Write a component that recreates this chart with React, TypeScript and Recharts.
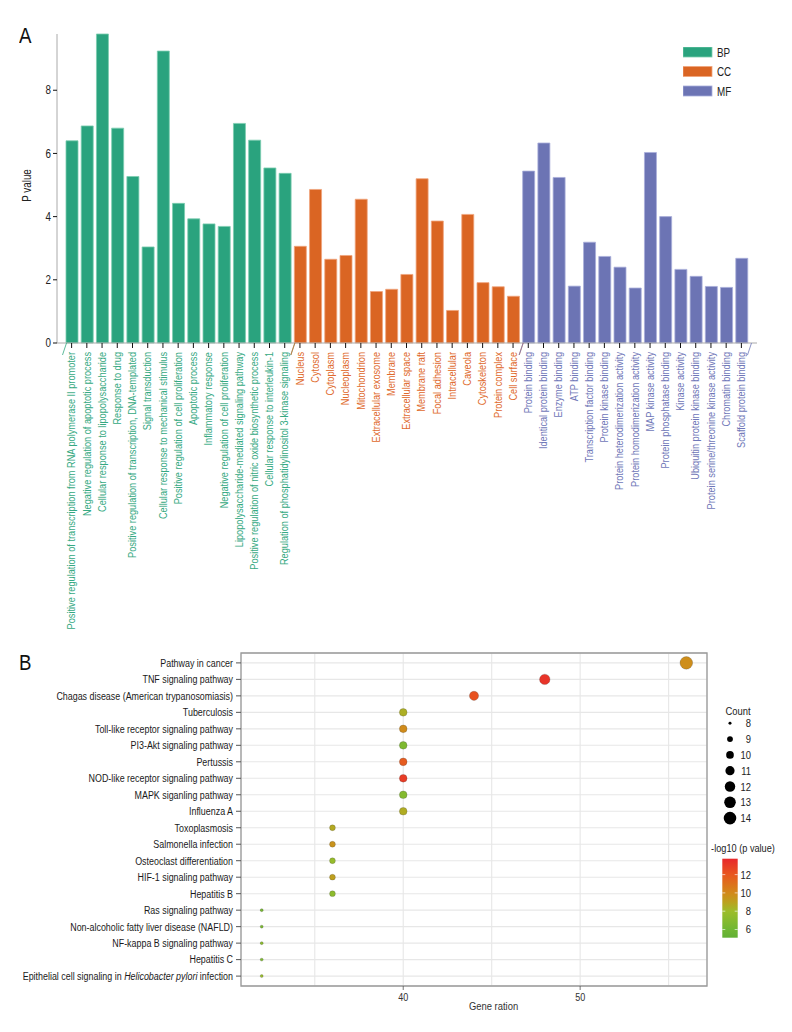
import React from "react";
import {
  BarChart,
  Bar,
  XAxis,
  YAxis,
  Cell,
  Legend,
  ScatterChart,
  Scatter,
  ZAxis,
  CartesianGrid,
  ReferenceArea,
} from "recharts";

const FONT = '"Liberation Sans", Arial, sans-serif';
// the original uses a condensed face; squeeze Liberation Sans horizontally
const SQUEEZE = 0.82;

// ---- Panel A: GO enrichment ----
const bpTerms = [
  "Positive regulation of transcription from RNA polymerase II promoter",
  "Negative regulation of apoptotic process",
  "Cellular response to lipopolysaccharide",
  "Response to drug",
  "Positive regulation of transcription, DNA-templated",
  "Signal transduction",
  "Cellular response to mechanical stimulus",
  "Positive regulation of cell proliferation",
  "Apoptotic process",
  "Inflammatory response",
  "Negative regulation of cell proliferation",
  "Lipopolysaccharide-mediated signaling pathway",
  "Positive regulation of nitric oxide biosynthetic process",
  "Cellular response to interleukin-1",
  "Regulation of phosphatidylinositol 3-kinase signaling",
];
const bpValues = [6.4, 6.87, 9.78, 6.8, 5.27, 3.04, 9.24, 4.42, 3.93, 3.77, 3.69, 6.95, 6.42, 5.54, 5.37];

const ccTerms = [
  "Nucleus",
  "Cytosol",
  "Cytoplasm",
  "Nucleoplasm",
  "Mitochondrion",
  "Extracellular exosome",
  "Membrane",
  "Extracellular space",
  "Membrane raft",
  "Focal adhesion",
  "Intracellular",
  "Caveola",
  "Cytoskeleton",
  "Protein complex",
  "Cell surface",
];
const ccValues = [3.06, 4.86, 2.65, 2.77, 4.55, 1.63, 1.7, 2.17, 5.2, 3.86, 1.03, 4.07, 1.91, 1.78, 1.48];

const mfTerms = [
  "Protein binding",
  "Identical protein binding",
  "Enzyme binding",
  "ATP binding",
  "Transcription factor binding",
  "Protein kinase binding",
  "Protein heterodimerization activity",
  "Protein homodimerization activity",
  "MAP kinase activity",
  "Protein phosphatase binding",
  "Kinase activity",
  "Ubiquitin protein kinase binding",
  "Protein serine/threonine kinase activity",
  "Chromatin binding",
  "Scaffold protein binding",
];
const mfValues = [5.44, 6.33, 5.24, 1.8, 3.19, 2.74, 2.4, 1.74, 6.03, 4.0, 2.33, 2.11, 1.79, 1.76, 2.68];

const pTicks = [0, 2, 4, 6, 8];
const groups = ["BP", "CC", "MF"];

const BAR_FILL: Record<string, string> = { BP: "#2aa37e", CC: "#da6523", MF: "#6c74b4" };
const BAR_EDGE: Record<string, string> = { BP: "#7ccdb0", CC: "#f0a57c", MF: "#a9aedb" };
const TEXT_FILL: Record<string, string> = { BP: "#35a982", CC: "#e06a2c", MF: "#6f77b8" };

const goData = [
  ...bpTerms.map((term, i) => ({ term, value: bpValues[i], group: "BP", first: i === 0, last: i === bpTerms.length - 1 })),
  ...ccTerms.map((term, i) => ({ term, value: ccValues[i], group: "CC", first: i === 0, last: i === ccTerms.length - 1 })),
  ...mfTerms.map((term, i) => ({ term, value: mfValues[i], group: "MF", first: i === 0, last: i === mfTerms.length - 1 })),
];

// ---- Panel B: KEGG pathways ----
const pathways = [
  "Pathway in cancer",
  "TNF signaling pathway",
  "Chagas disease (American trypanosomiasis)",
  "Tuberculosis",
  "Toll-like receptor signaling pathway",
  "PI3-Akt signaling pathway",
  "Pertussis",
  "NOD-like receptor signaling pathway",
  "MAPK siganling pathway",
  "Influenza A",
  "Toxoplasmosis",
  "Salmonella infection",
  "Osteoclast differentiation",
  "HIF-1 signaling pathway",
  "Hepatitis B",
  "Ras signaling pathway",
  "Non-alcoholic fatty liver disease (NAFLD)",
  "NF-kappa B signaling pathway",
  "Hepatitis C",
  "Epithelial cell signaling in Helicobacter pylori infection",
];
const geneRatio = [56, 48, 44, 40, 40, 40, 40, 40, 40, 40, 36, 36, 36, 36, 36, 32, 32, 32, 32, 32];
const geneCount = [14, 12, 11, 10, 10, 10, 10, 10, 10, 10, 9, 9, 9, 9, 9, 8, 8, 8, 8, 8];
const negLogP = [9.8, 13.3, 12.2, 8.5, 9.9, 6.6, 11.8, 13.0, 6.9, 8.6, 8.7, 9.6, 7.7, 9.1, 7.3, 6.3, 6.5, 7.2, 6.6, 7.8];

const ratioDomain = [30.83, 57.17];
const ratioGrid = [35, 40, 45, 50, 55];
const ratioLabels = [40, 50];
const countLegend = [8, 9, 10, 11, 12, 13, 14];
const countDomain = [8, 14];
const countArea = [7, 125];
const colorTicks = [6, 8, 10, 12];
const colorStops: [number, string][] = [
  [5.1, "#62b034"],
  [6, "#70b733"],
  [8, "#9dbd2a"],
  [9, "#bca11e"],
  [10, "#d2891a"],
  [12, "#e8571f"],
  [13.74, "#e8282c"],
];

const rowDomain = [-0.6, pathways.length - 0.4];
const rowTicks = pathways.map((_, i) => i);

const keggData = pathways.map((name, i) => ({
  name,
  ratio: geneRatio[i],
  row: pathways.length - 1 - i,
  count: geneCount[i],
  logp: negLogP[i],
}));

function hexToRgb(h: string) {
  const n = parseInt(h.slice(1), 16);
  return [(n >> 16) & 255, (n >> 8) & 255, n & 255];
}

function colorFor(v: number) {
  if (v <= colorStops[0][0]) return colorStops[0][1];
  for (let i = 1; i < colorStops.length; i++) {
    const [v1, c1] = colorStops[i];
    const [v0, c0] = colorStops[i - 1];
    if (v <= v1) {
      const t = (v - v0) / (v1 - v0);
      const a = hexToRgb(c0);
      const b = hexToRgb(c1);
      const m = a.map((x, k) => Math.round(x + (b[k] - x) * t));
      return `rgb(${m[0]},${m[1]},${m[2]})`;
    }
  }
  return colorStops[colorStops.length - 1][1];
}

// text drawn with a horizontal squeeze so it reads like a condensed face
function CText({ x, y, sx = SQUEEZE, rotate = 0, children, ...rest }: any) {
  const tf = `translate(${x},${y})${rotate ? ` rotate(${rotate})` : ""} scale(${sx},1)`;
  return (
    <text transform={tf} x={0} y={0} fontFamily={FONT} {...rest}>
      {children}
    </text>
  );
}

// width of one category band on the GO axis (plot width minus axis padding)
const GO_BAND = (700 - 15) / goData.length;

function GoTick(props: any) {
  const { x, y, payload } = props;
  const item = goData.find((d) => d.term === payload.value);
  if (!item) return null;
  const color = TEXT_FILL[item.group];
  const half = GO_BAND / 2;
  return (
    <g>
      <CText x={x} y={y} rotate={-90} sx={0.86} textAnchor="end" dy="0.35em" fontSize={10.7} fill={color}>
        {payload.value}
      </CText>
      {item.first && (
        <line x1={x - half + 2.5} y1={y - 9} x2={x - half - 1.5} y2={y + 3} stroke={color} strokeWidth={0.8} />
      )}
      {item.last && (
        <line x1={x + half + 2.5} y1={y - 9} x2={x + half - 1.5} y2={y + 3} stroke={color} strokeWidth={0.8} />
      )}
    </g>
  );
}

function PTick(props: any) {
  const { x, y, payload } = props;
  return (
    <CText x={x} y={y} textAnchor="end" dy="0.35em" fontSize={12} fill="#222">
      {payload.value}
    </CText>
  );
}

function GoLegend() {
  return (
    <svg width={80} height={60}>
      {groups.map((g, i) => (
        <g key={g}>
          <rect x={0} y={i * 19.5} width={29} height={10} fill={BAR_FILL[g]} stroke={BAR_EDGE[g]} strokeWidth={0.8} />
          <CText x={34} y={i * 19.5 + 9.5} fontSize={12} fill="#222">
            {g}
          </CText>
        </g>
      ))}
    </svg>
  );
}

function PathTick(props: any) {
  const { x, y, payload } = props;
  const name = pathways[pathways.length - 1 - payload.value];
  if (!name) return null;
  const italic = "Helicobacter pylori";
  const k = name.indexOf(italic);
  return (
    <CText x={x} y={y} sx={0.81} dy="0.35em" textAnchor="end" fontSize={11} fill="#1a1a1a">
      {k < 0 ? (
        name
      ) : (
        <>
          <tspan>{name.slice(0, k)}</tspan>
          <tspan fontStyle="italic">{italic}</tspan>
          <tspan>{name.slice(k + italic.length)}</tspan>
        </>
      )}
    </CText>
  );
}

function RatioTick(props: any) {
  const { x, y, payload } = props;
  if (!ratioLabels.includes(payload.value)) return null;
  return (
    <g>
      <line x1={x} y1={y - 7} x2={x} y2={y - 3} stroke="#555" strokeWidth={0.8} />
      <CText x={x} y={y} dy="0.75em" textAnchor="middle" fontSize={11} fill="#333">
        {payload.value}
      </CText>
    </g>
  );
}

function Dot(props: any) {
  const { cx, cy, payload } = props;
  const r = props.size != null ? Math.sqrt(props.size / Math.PI) : props.width / 2;
  return (
    <circle cx={cx} cy={cy} r={r} fill={colorFor(payload.logp)} stroke="rgba(60,60,60,0.45)" strokeWidth={0.5} />
  );
}

function areaOf(c: number) {
  return countArea[0] + ((c - countDomain[0]) / (countDomain[1] - countDomain[0])) * (countArea[1] - countArea[0]);
}

function KeggLegend() {
  const lo = colorStops[0][0];
  const hi = colorStops[colorStops.length - 1][0];
  const barTop = 158.7;
  const barH = 79;
  const yOf = (v: number) => barTop + ((hi - v) / (hi - lo)) * barH;
  return (
    <svg width={87} height={250}>
      <defs>
        <linearGradient id="logpGrad" x1="0" y1="1" x2="0" y2="0">
          {colorStops.map(([v, c]) => (
            <stop key={v} offset={`${((v - lo) / (hi - lo)) * 100}%`} stopColor={c} />
          ))}
        </linearGradient>
      </defs>
      <CText x={33} y={15} textAnchor="middle" fontSize={11.5} fill="#222">
        Count
      </CText>
      {countLegend.map((c, i) => {
        const cy = 23.3 + i * 15.8;
        return (
          <g key={c}>
            <circle cx={25} cy={cy} r={Math.sqrt(areaOf(c) / Math.PI)} fill="#000" />
            <CText x={46} y={cy + 4} textAnchor="end" fontSize={11.5} fill="#222">
              {c}
            </CText>
          </g>
        );
      })}
      <CText x={38} y={151.5} textAnchor="middle" fontSize={11.2} fill="#222">
        -log10 (p value)
      </CText>
      <rect x={17.3} y={barTop} width={15.4} height={barH} fill="url(#logpGrad)" />
      {colorTicks.map((v) => (
        <g key={v}>
          <line x1={17.3} x2={20.3} y1={yOf(v)} y2={yOf(v)} stroke="#fff" strokeWidth={0.8} opacity={0.8} />
          <line x1={29.7} x2={32.7} y1={yOf(v)} y2={yOf(v)} stroke="#fff" strokeWidth={0.8} opacity={0.8} />
          <CText x={46} y={yOf(v) + 4} textAnchor="end" fontSize={11.5} fill="#222">
            {v}
          </CText>
        </g>
      ))}
    </svg>
  );
}

export default function App() {
  return (
    <div style={{ position: "relative", width: 792, height: 1032, background: "#fff", fontFamily: FONT }}>
      <style>{`body{margin:0}`}</style>

      <div style={{ position: "absolute", left: 0, top: 0 }}>
        <BarChart width={792} height={642} data={goData} margin={{ top: 34, right: 35, bottom: 5, left: 0 }}>
          <XAxis
            dataKey="term"
            interval={0}
            height={294}
            padding={{ left: 7, right: 8 }}
            axisLine={{ stroke: "#aaa" }}
            tickLine={{ stroke: "#111" }}
            tickSize={5}
            tickMargin={4}
            tick={<GoTick />}
          />
          <YAxis
            width={57}
            domain={[0, 9.78]}
            ticks={pTicks}
            axisLine={{ stroke: "#aaa" }}
            tickLine={{ stroke: "#111" }}
            tickSize={4}
            tick={<PTick />}
            label={(p: any) => (
              <CText
                x={p.viewBox.x + 31}
                y={p.viewBox.y + p.viewBox.height / 2 - 3}
                rotate={-90}
                textAnchor="middle"
                fontSize={12}
                fill="#222"
              >
                P value
              </CText>
            )}
          />
          <Legend
            layout="vertical"
            align="center"
            verticalAlign="middle"
            content={<GoLegend />}
            wrapperStyle={{ position: "absolute", left: 683, top: 47, width: 80, height: 60 }}
          />
          <Bar dataKey="value" barSize={12} isAnimationActive={false}>
            {goData.map((d) => (
              <Cell key={d.term} fill={BAR_FILL[d.group]} stroke={BAR_EDGE[d.group]} strokeWidth={0.8} />
            ))}
          </Bar>
        </BarChart>
      </div>

      <div style={{ position: "absolute", left: 0, top: 620 }}>
        <ScatterChart width={792} height={412} margin={{ top: 33, right: 85, bottom: 16, left: 0 }}>
          <CartesianGrid stroke="#e7e7e7" strokeWidth={1.1} />
          <XAxis
            type="number"
            dataKey="ratio"
            domain={ratioDomain}
            ticks={ratioGrid}
            allowDataOverflow
            height={30}
            axisLine={false}
            tickLine={false}
            tickSize={4}
            tickMargin={3}
            tick={<RatioTick />}
            label={(p: any) => (
              <CText
                x={p.viewBox.x + p.viewBox.width * 0.542}
                y={p.viewBox.y + 24}
                textAnchor="middle"
                fontSize={11.5}
                fill="#333"
              >
                Gene ration
              </CText>
            )}
          />
          <YAxis
            type="number"
            dataKey="row"
            domain={rowDomain}
            ticks={rowTicks}
            interval={0}
            width={241}
            axisLine={false}
            tickLine={{ stroke: "#555" }}
            tickSize={5}
            tickMargin={3}
            tick={<PathTick />}
          />
          <ZAxis type="number" dataKey="count" domain={countDomain} range={countArea} />
          <ReferenceArea
            x1={ratioDomain[0]}
            x2={ratioDomain[1]}
            y1={rowDomain[0]}
            y2={rowDomain[1]}
            fill="none"
            stroke="#999"
            strokeWidth={1.3}
            ifOverflow="visible"
          />
          <Legend
            layout="vertical"
            align="center"
            verticalAlign="middle"
            content={<KeggLegend />}
            wrapperStyle={{ position: "absolute", left: 705, top: 80, width: 87, height: 250 }}
          />
          <Scatter data={keggData} shape={<Dot />} isAnimationActive={false} />
        </ScatterChart>
      </div>

      <div style={{ position: "absolute", left: 18, top: 25, fontSize: 22, lineHeight: 1, color: "#111", transform: "scaleX(0.85)" }}>A</div>
      <div style={{ position: "absolute", left: 18, top: 652, fontSize: 22, lineHeight: 1, color: "#111", transform: "scaleX(0.85)" }}>B</div>
    </div>
  );
}
